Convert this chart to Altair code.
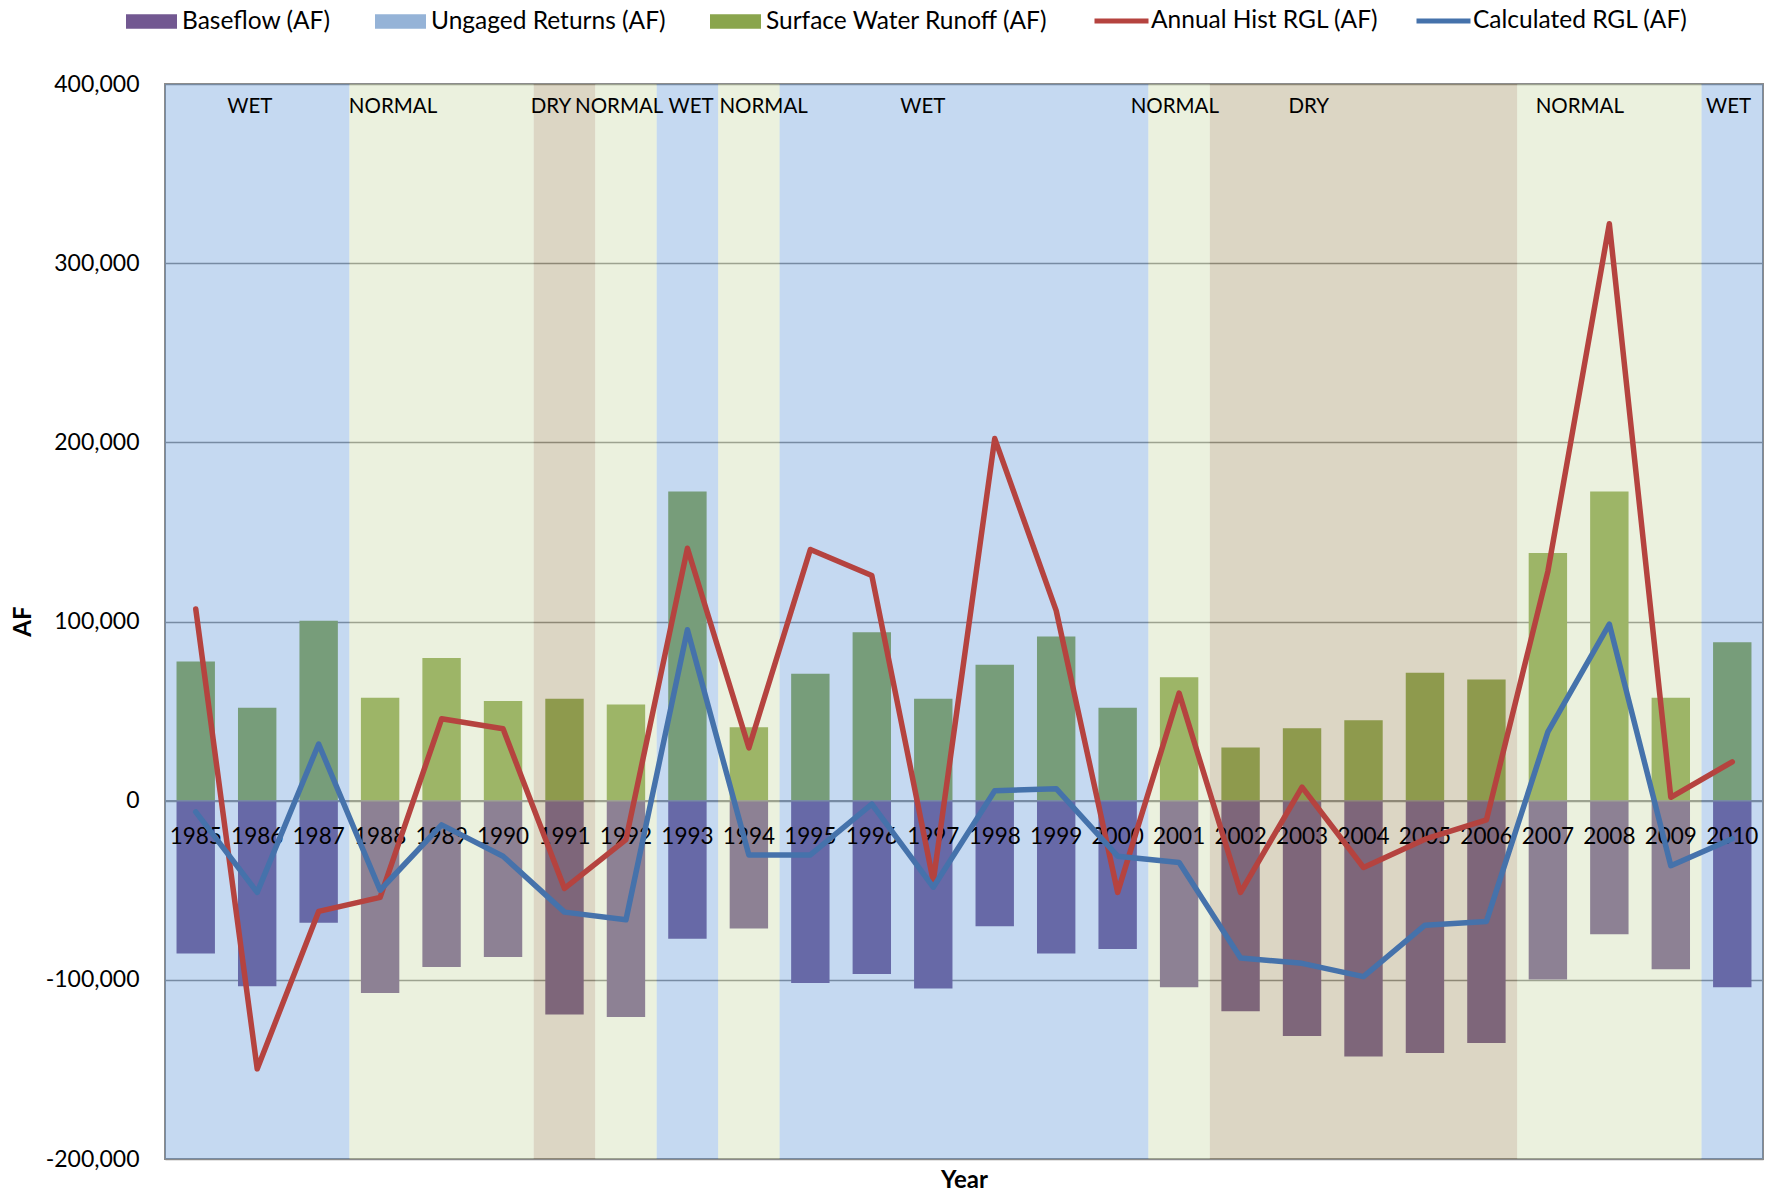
import altair as alt
import pandas as pd

# ---------------- data ----------------
years = list(range(1985, 2011))
year_type = ["WET", "WET", "WET", "NORMAL", "NORMAL", "NORMAL", "DRY", "NORMAL", "WET", "NORMAL",
             "WET", "WET", "WET", "WET", "WET", "WET", "NORMAL", "DRY", "DRY", "DRY", "DRY", "DRY",
             "NORMAL", "NORMAL", "NORMAL", "WET"]
baseflow = [-85300, -103600, -68200, -107400, -92900, -87200, -119400, -120700, -77100, -71400,
            -101700, -96700, -104900, -70100, -85300, -82800, -104200, -117500, -131400, -142800,
            -140900, -135200, -99800, -74500, -94100, -104200]
surface = [77700, 51800, 100400, 57500, 79600, 55600, 56900, 53700, 172500, 41000,
           70800, 94000, 56900, 75800, 91600, 51800, 68900, 29700, 40400, 44900,
           71400, 67600, 138300, 172500, 57500, 88400]
hist_rgl = [107000, -149700, -61800, -54000, 45700, 40100, -49000, -21700, 140900, 29500,
            140200, 125700, -44900, 202100, 106100, -51200, 60000, -51200, 7600, -37300,
            -21500, -10700, 128000, 322000, 1900, 21700]
calc_rgl = [-6300, -51200, 31600, -50000, -13500, -31000, -62200, -66500, 95400, -30300,
            -30300, -1900, -48300, 5500, 6700, -31000, -34500, -87800, -90800, -98200,
            -69500, -67400, 38400, 98500, -36300, -21200]
band_labels = ["WET", "NORMAL", "DRY", "NORMAL", "WET", "NORMAL", "WET", "NORMAL", "DRY", "NORMAL", "WET"]
band_label_pos = [1985.88, 1988.21, 1990.78, 1991.89, 1993.06, 1994.24, 1996.83, 2000.93, 2003.11, 2007.52, 2009.94]
y_ticks = [-200000, -100000, 0, 100000, 200000, 300000, 400000]

bar_series = ["Baseflow (AF)", "Ungaged Returns (AF)", "Surface Water Runoff (AF)"]
bar_colors = ["#725891", "#95B3D7", "#8AA54D"]
line_series = ["Annual Hist RGL (AF)", "Calculated RGL (AF)"]
line_colors = ["#B5433F", "#4572AB"]
band_types = ["WET", "NORMAL", "DRY"]
band_colors = ["rgb(81,142,214)", "rgb(195,213,156)", "rgb(150,132,78)"]

# ---------------- tables ----------------
bars_df = pd.DataFrame(
    [{"year": y, "series": bar_series[0], "value": v} for y, v in zip(years, baseflow)]
    + [{"year": y, "series": bar_series[2], "value": v} for y, v in zip(years, surface)]
)
lines_df = pd.DataFrame(
    [{"year": y, "series": line_series[0], "value": v} for y, v in zip(years, hist_rgl)]
    + [{"year": y, "series": line_series[1], "value": v} for y, v in zip(years, calc_rgl)]
)
runs = []
start = years[0]
for i in range(1, len(years) + 1):
    if i == len(years) or year_type[i] != year_type[i - 1]:
        runs.append({"x0": start - 0.5, "x1": years[i - 1] + 0.5, "type": year_type[i - 1],
                     "y0": y_ticks[0], "y1": y_ticks[-1]})
        if i < len(years):
            start = years[i]
bands_df = pd.DataFrame(runs)
year_lab_df = pd.DataFrame({"year": years, "label": [str(y) for y in years], "zero": [0] * len(years)})
band_lab_df = pd.DataFrame({"pos": band_label_pos, "label": band_labels, "top": [y_ticks[-1]] * len(band_labels)})

FONT = "Lato"
xscale = alt.Scale(domain=[years[0] - 0.5, years[-1] + 0.5], nice=False, zero=False, padding=0)
yscale = alt.Scale(domain=[y_ticks[0], y_ticks[-1]], nice=False, zero=False, padding=0)

x_axis = alt.Axis(title="Year", labels=False, ticks=False, domain=False, grid=False,
                  titleFont=FONT, titleFontSize=24, titleFontWeight="bold", titleColor="black",
                  titleY=28, titleBaseline="alphabetic")
y_axis = alt.Axis(values=y_ticks, grid=True, gridColor="#8A8A8A", gridWidth=1.5,
                  domain=False, ticks=False, labelPadding=26, labelFont=FONT, labelFontSize=23,
                  labelColor="black", labelExpr="replace(format(datum.value, ','), '\u2212', '-')",
                  title="AF", titleFont=FONT, titleFontSize=24, titleFontWeight="bold",
                  titleColor="black", titleAngle=270, titleX=-142, titleY=537,
                  titleAlign="center", titleBaseline="middle")

bars = alt.Chart(bars_df).mark_bar(size=38.4).encode(
    x=alt.X("year:Q", scale=xscale, axis=x_axis),
    y=alt.Y("value:Q", scale=yscale, axis=y_axis, stack=None),
    fill=alt.Fill("series:N", scale=alt.Scale(domain=bar_series, range=bar_colors),
                  legend=alt.Legend(orient="none", legendX=-39, legendY=-88, direction="horizontal",
                                    columns=3, title=None, symbolType="M-1,-0.285H1V0.285H-1Z",
                                    symbolSize=2601, symbolStrokeWidth=0, symbolOpacity=1,
                                    labelFont=FONT, labelFontSize=24.5, labelColor="black",
                                    labelOffset=5, columnPadding=44, padding=0, labelLimit=500)),
)

zero_rule = alt.Chart(year_lab_df).mark_rule(color="#8A8A8A", strokeWidth=1.5).encode(
    y=alt.Y("max(zero):Q", scale=yscale, axis=y_axis)
)

bands = alt.Chart(bands_df).mark_rect(opacity=1 / 3).encode(
    x=alt.X("x0:Q", scale=xscale, axis=x_axis), x2="x1:Q",
    y=alt.Y("y0:Q", scale=yscale, axis=y_axis), y2="y1:Q",
    color=alt.Color("type:N", scale=alt.Scale(domain=band_types, range=band_colors), legend=None),
)

year_labels = alt.Chart(year_lab_df).mark_text(dy=36, font=FONT, fontSize=22.5, color="black").encode(
    x=alt.X("year:Q", scale=xscale, axis=x_axis),
    y=alt.Y("zero:Q", scale=yscale, axis=y_axis),
    text="label:N",
)

lines = alt.Chart(lines_df).mark_line(strokeWidth=5.5, strokeJoin="round", strokeCap="round").encode(
    x=alt.X("year:Q", scale=xscale, axis=x_axis),
    y=alt.Y("value:Q", scale=yscale, axis=y_axis),
    stroke=alt.Stroke("series:N", scale=alt.Scale(domain=line_series, range=line_colors),
                      legend=alt.Legend(orient="none", legendX=927, legendY=-92.5, direction="horizontal",
                                        columns=2, title=None, symbolType="stroke", symbolSize=2916,
                                        symbolStrokeWidth=5, symbolOpacity=1,
                                        labelFont=FONT, labelFontSize=24.5, labelColor="black",
                                        labelOffset=0, columnPadding=27, padding=0, labelLimit=500)),
    detail="series:N",
)

band_text = alt.Chart(band_lab_df).mark_text(dy=23, font=FONT, fontSize=20.5, color="black").encode(
    x=alt.X("pos:Q", scale=xscale, axis=x_axis),
    y=alt.Y("top:Q", scale=yscale, axis=y_axis),
    text="label:N",
)

chart = alt.layer(bars, zero_rule, bands, year_labels, lines, band_text).resolve_scale(
    color="independent", fill="independent", stroke="independent"
).properties(
    width=1598, height=1075,
    autosize=alt.AutoSizeParams(type="none"),
    padding={"left": 157, "top": 76, "right": 4, "bottom": 30},
).configure(font=FONT).configure_view(stroke="#8C8C8C", strokeWidth=2)

chart.save("out.html", embed_options={"renderer": "svg", "actions": False})
